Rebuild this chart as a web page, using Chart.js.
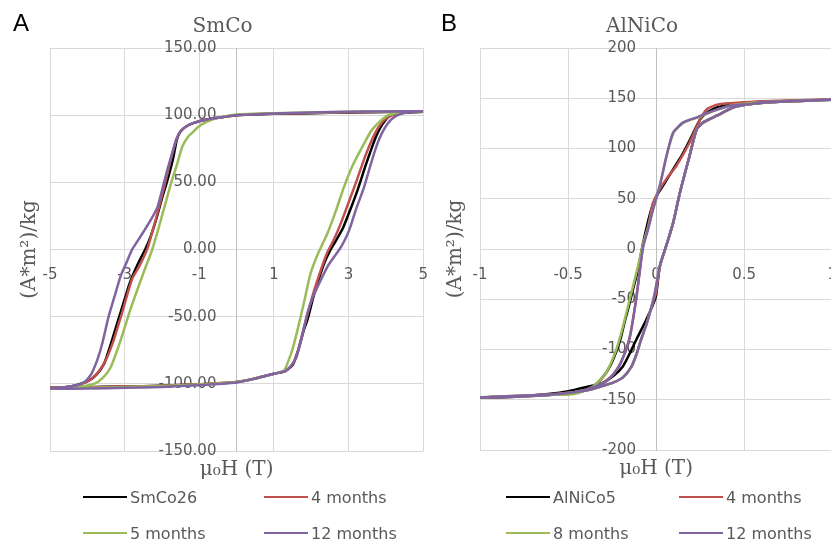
<!DOCTYPE html>
<html>
<head>
<meta charset="utf-8">
<script src="https://cdn.jsdelivr.net/npm/chart.js@4.4.0/dist/chart.umd.min.js"></script>
<style>
  html, body { margin: 0; padding: 0; background: #fff; overflow: hidden; width: 831px; height: 545px; }
  .panel { position: absolute; top: 0; height: 545px; }
  #panelA { left: 0; width: 445px; }
  #panelB { left: 430px; width: 424px; }
  .letter { position: absolute; top: 11px; font-family: "Liberation Sans", sans-serif; font-size: 24px; line-height: 24px; color: #000; }
  .legend { position: absolute; top: 487px; display: grid; row-gap: 16px; }
  #legendA { left: 83px; grid-template-columns: 181px auto; }
  #legendB { left: 506px; grid-template-columns: 173px auto; }
  .item { display: flex; align-items: center; height: 20px; font-family: "DejaVu Sans", sans-serif; font-size: 16px; color: #595959; white-space: nowrap; }
  .swatch { display: inline-block; width: 44px; height: 2.5px; margin-right: 3px; }
</style>
</head>
<body>
<canvas id="panelA" class="panel" width="445" height="545"></canvas>
<canvas id="panelB" class="panel" width="424" height="545"></canvas>
<div class="letter" style="left:13px">A</div>
<div class="letter" style="left:441px">B</div>
<div id="legendA" class="legend"></div>
<div id="legendB" class="legend"></div>
<script>
// ---- SmCo loops: mu0H (T) and magnetisation, descending then ascending ----
const smcoBlackH = [5, 4, 3, 2, 1, 0, -0.5, -1, -1.3, -1.5, -1.6, -1.7, -1.85, -2, -2.15, -2.3, -2.45, -2.65, -2.85, -3, -3.2, -3.4, -3.55, -3.75, -3.95, -4.3, -4.6, -5,
  -4, -3, -2, -1, -0.5, 0, 0.5, 1, 1.3, 1.5, 1.65, 1.8, 1.9, 2.05, 2.2, 2.35, 2.5, 2.65, 2.85, 3.05, 3.25, 3.45, 3.6, 3.75, 3.9, 4.1, 4.4, 4.7, 5];
const smcoBlackM = [102.5, 102.3, 102, 101.5, 101, 100, 98, 95.5, 92.5, 88, 82, 68, 52, 38, 23, 10, 0, -11, -24, -37, -55, -73, -85, -93, -97.5, -101, -102.5, -103,
  -102.5, -102, -101.5, -100.3, -99.8, -98.7, -96, -92.5, -90.5, -86, -75, -60, -52, -36, -22, -10, -1, 6, 16, 30, 45, 62, 74, 85, 93, 99.5, 101.5, 102.2, 102.5];

const smcoRedH = [5, 4, 3, 2, 1, 0, -0.5, -1, -1.3, -1.5, -1.6, -1.7, -1.85, -2, -2.15, -2.3, -2.4, -2.6, -2.8, -3.1, -3.3, -3.5, -3.7, -3.9, -4.2, -4.6, -5,
  -4, -3, -2, -1, 0, 0.5, 1, 1.3, 1.45, 1.6, 1.75, 1.9, 2.05, 2.2, 2.35, 2.45, 2.6, 2.8, 3, 3.2, 3.4, 3.6, 3.8, 4, 4.3, 4.7, 5];
const smcoRedM = [102.8, 102.6, 102.2, 101.7, 101.2, 100, 98, 95.5, 92.5, 88, 83, 74, 57, 40, 24, 9, 0, -12, -22, -50, -68, -82, -91, -96.5, -100.5, -102.5, -103,
  -102.5, -102, -101.5, -100.3, -98.7, -96, -92.5, -90.5, -87, -80, -64, -48, -33, -20, -8, -1, 7, 20, 35, 50, 66, 80, 91, 97.5, 101.5, 102.5, 103];

const smcoGreenH = [5, 4, 3, 2, 1, 0, -0.5, -0.8, -1, -1.15, -1.3, -1.45, -1.6, -1.75, -1.95, -2.1, -2.26, -2.45, -2.66, -2.85, -3.02, -3.2, -3.38, -3.6, -3.82, -4.2, -4.6, -5,
  -4, -3, -2, -1, 0, 0.5, 1, 1.27, 1.4, 1.5, 1.63, 1.8, 1.98, 2.15, 2.3, 2.43, 2.65, 2.87, 3.1, 3.41, 3.6, 3.77, 4.04, 4.4, 4.7, 5];
const smcoGreenM = [103, 102.8, 102.5, 102, 101.5, 100.5, 98, 95, 92, 88, 84, 77, 63, 50, 30, 15, 0, -14, -30, -45, -60, -75, -88, -96, -100, -102, -103, -103.5,
  -103, -102.3, -101.7, -100.5, -98.7, -96, -92.5, -90, -82, -74, -60, -40, -18, -5, 4, 11.7, 28, 46, 62, 78.6, 88, 93.5, 99.7, 102, 102.8, 103];

const smcoPurpleH = [5, 4, 3, 2, 1, 0, -0.5, -1, -1.3, -1.5, -1.6, -1.7, -1.86, -2.12, -2.3, -2.5, -2.66, -2.8, -2.97, -3.11, -3.25, -3.43, -3.6, -3.73, -3.9, -4.05, -4.2, -4.6, -5,
  -4, -3, -2, -1, 0, 0.5, 1, 1.3, 1.45, 1.6, 1.75, 1.9, 2.05, 2.25, 2.45, 2.65, 2.8, 2.95, 3.05, 3.2, 3.41, 3.6, 3.77, 3.9, 4.04, 4.2, 4.4, 4.7, 5];
const smcoPurpleM = [103, 102.8, 102.5, 102, 101.3, 100, 98, 95.5, 92.5, 88, 83, 74, 59, 31.5, 22, 13, 6, 0, -11, -20, -33, -50, -70, -82, -93, -98, -100.5, -102.5, -103.5,
  -103.5, -103, -102.3, -101, -99, -96, -92.5, -90.5, -87, -80, -65, -47, -35, -23, -12, -4, 2, 10, 17, 30, 46, 64, 78.6, 87, 93.5, 98, 101, 102.5, 103];

// ---- AlNiCo loops ----
const alBlackH = [1, 0.8, 0.6, 0.5, 0.42, 0.35, 0.3, 0.25, 0.19, 0.145, 0.12, 0.05, 0, -0.03, -0.074, -0.105, -0.131, -0.155, -0.178, -0.2, -0.226, -0.26, -0.3, -0.36, -0.43, -0.55, -0.7, -0.85, -1,
  -0.8, -0.6, -0.5, -0.416, -0.35, -0.3, -0.24, -0.188, -0.15, -0.112, -0.06, -0.017, 0, 0.021, 0.059, 0.097, 0.135, 0.19, 0.23, 0.268, 0.344, 0.44, 0.55, 0.7, 0.85, 1];
const alBlackM = [148.5, 147.5, 146.5, 145.5, 143.5, 141, 137, 129, 108, 93, 86, 66, 52, 38, 6, -22, -40, -57, -72, -88, -102, -116, -127, -137, -142, -144.5, -146, -147, -148,
  -147, -144, -141.5, -138, -135.5, -133, -126, -116.6, -104, -90, -72, -55, -46, -17, 4, 26.3, 56, 92.7, 119, 126, 132.6, 141, 144.5, 146.5, 147.5, 148.5];

const alRedH = [1, 0.8, 0.6, 0.5, 0.42, 0.36, 0.32, 0.287, 0.25, 0.19, 0.116, 0.06, 0.021, -0.02, -0.045, -0.074, -0.095, -0.115, -0.15, -0.2, -0.24, -0.283, -0.35, -0.43, -0.55, -0.7, -0.85, -1,
  -0.8, -0.6, -0.49, -0.378, -0.3, -0.245, -0.19, -0.14, -0.11, -0.087, -0.055, -0.03, 0, 0.01, 0.025, 0.059, 0.097, 0.135, 0.19, 0.23, 0.268, 0.344, 0.44, 0.55, 0.7, 0.85, 1];
const alRedM = [149, 148, 147, 146, 145, 144, 142, 139, 129, 106, 83, 70, 59.5, 44.6, 22, 3, -25, -52, -88, -113, -124, -131, -137, -141.5, -144, -145.5, -146.5, -147.5,
  -147, -145, -143, -140, -136, -133, -128, -117, -104, -91, -75, -60, -43, -30, -15, 4, 26.3, 56, 92.7, 119, 126, 132.6, 141, 144.5, 146.5, 147.5, 149];

const alGreenH = [1, 0.8, 0.6, 0.5, 0.42, 0.33, 0.23, 0.154, 0.1, 0.06, 0.021, -0.017, -0.045, -0.074, -0.1, -0.131, -0.155, -0.178, -0.2, -0.226, -0.255, -0.283, -0.32, -0.359, -0.435, -0.5, -0.6, -0.75, -1,
  -0.8, -0.6, -0.49, -0.378, -0.3, -0.245, -0.19, -0.14, -0.11, -0.087, -0.055, -0.03, -0.007, 0.021, 0.059, 0.097, 0.135, 0.19, 0.23, 0.268, 0.344, 0.44, 0.55, 0.7, 0.85, 1];
const alGreenM = [148.5, 147.5, 146, 144.5, 142.5, 137.5, 130.5, 125.5, 116, 93, 63, 40, 22, 5, -15, -37, -54, -70, -85, -100, -113, -123, -131, -137, -143, -145, -145, -146, -147.5,
  -147, -145, -143, -140, -136, -133, -128, -117, -104, -91, -75, -60, -43.5, -17, 4, 26.3, 56, 92.7, 119, 126, 132.6, 141, 144.5, 146.5, 147.5, 148.5];

const alPurpleH = [1, 0.8, 0.6, 0.534, 0.42, 0.325, 0.23, 0.154, 0.097, 0.059, 0.021, -0.017, -0.045, -0.074, -0.095, -0.115, -0.15, -0.2, -0.24, -0.283, -0.35, -0.43, -0.55, -0.7, -0.85, -1,
  -0.8, -0.6, -0.49, -0.378, -0.3, -0.245, -0.19, -0.14, -0.11, -0.087, -0.055, -0.03, -0.007, 0.021, 0.059, 0.097, 0.135, 0.19, 0.23, 0.268, 0.344, 0.44, 0.55, 0.7, 0.85, 1];
const alPurpleM = [148.5, 147.5, 146, 144.3, 142.6, 137.6, 131, 126, 116, 92.7, 62.8, 39.6, 20, 2, -25, -52, -88, -113, -124, -131.6, -137, -141.5, -144, -145.5, -146.5, -147.5,
  -147, -145, -143, -140, -136, -133, -128, -117, -104, -91, -75, -60, -43.5, -17, 4, 26.3, 56, 92.7, 119, 126, 132.6, 141, 144.5, 146.5, 147.5, 148.5];

const smcoLabels = ["SmCo26", "4 months", "5 months", "12 months"];
const alnicoLabels = ["AlNiCo5", "4 months", "8 months", "12 months"];
const seriesColors = ["#000000", "#C0504D", "#9BBB59", "#8064A2"];

const GRID = "#D9D9D9";
const TEXT = "#595959";
const TICK_FONT = { family: "DejaVu Sans", size: 15 };
const SERIF_FONT = { family: "DejaVu Serif", size: 20, weight: "normal" };

const toPoints = (h, m) => h.map((x, i) => ({ x: x, y: m[i] }));

const makeDatasets = (labels, loops) => loops.map((loop, i) => ({
  label: labels[i],
  data: toPoints(loop[0], loop[1]),
  borderColor: seriesColors[i],
  backgroundColor: seriesColors[i],
  borderWidth: 2.5,
  pointRadius: 0,
  showLine: true,
  tension: 0.2,
  order: loops.length - 1 - i   // last series on top, like the original
}));

// empty side axes that only carry an axis title
const spacer = (side, size, title) => ({
  type: "linear", axis: side === "bottom" ? "x" : "y", position: side,
  ticks: { display: false }, grid: { display: false }, border: { display: false },
  title: title,
  afterFit: (s) => { if (side === "bottom") { s.height = size; } else { s.width = size; } }
});

const drawPanel = (canvasId, cfg) => new Chart(document.getElementById(canvasId), {
  type: "scatter",
  data: { datasets: cfg.datasets },
  options: {
    responsive: false,
    animation: false,
    devicePixelRatio: 1,
    layout: { padding: { left: 0, right: 0, top: 0, bottom: cfg.padBottom } },
    plugins: {
      legend: { display: false },
      tooltip: { enabled: false },
      title: {
        display: true,
        text: cfg.title,
        color: TEXT,
        font: SERIF_FONT,
        padding: { top: 15, bottom: 9 }
      }
    },
    scales: {
      x: {
        type: "linear",
        position: { y: 0 },
        min: cfg.xMin, max: cfg.xMax,
        ticks: { stepSize: cfg.xStep, color: TEXT, font: TICK_FONT, padding: 17, maxRotation: 0, autoSkip: false, callback: (v) => String(v) },
        grid: { color: GRID, drawTicks: false },
        border: { color: GRID }
      },
      y: {
        type: "linear",
        position: { x: 0 },
        min: cfg.yMin, max: cfg.yMax,
        ticks: { stepSize: cfg.yStep, display: false },
        grid: { color: GRID, drawTicks: false },
        border: { color: "#BFBFBF" }
      },
      // value labels sit a little left of the vertical axis
      yLabels: {
        type: "linear", axis: "y",
        position: { x: cfg.yLabelAt },
        min: cfg.yMin, max: cfg.yMax,
        ticks: { stepSize: cfg.yStep, color: TEXT, font: TICK_FONT, callback: cfg.yFormat },
        grid: { display: false },
        border: { display: false }
      },
      yTitle: spacer("left", 50, {
        display: true, text: "(A*m²)/kg", color: TEXT, font: SERIF_FONT, padding: { top: cfg.yTitlePad, bottom: 0 }
      }),
      xTitle: spacer("bottom", 31, {
        display: true, text: "μ₀H (T)", color: TEXT, font: SERIF_FONT, padding: { top: 0, bottom: 0 }
      })
    }
  }
});

const buildLegend = (chart, boxId) => {
  const box = document.getElementById(boxId);
  chart.data.datasets.forEach((ds) => {
    const item = document.createElement("div");
    item.className = "item";
    const sw = document.createElement("span");
    sw.className = "swatch";
    sw.style.background = ds.borderColor;
    const tx = document.createElement("span");
    tx.textContent = ds.label;
    item.appendChild(sw);
    item.appendChild(tx);
    box.appendChild(item);
  });
};

const chartA = drawPanel("panelA", {
  title: "SmCo",
  datasets: makeDatasets(smcoLabels, [
    [smcoBlackH, smcoBlackM], [smcoRedH, smcoRedM], [smcoGreenH, smcoGreenM], [smcoPurpleH, smcoPurpleM]
  ]),
  xMin: -5, xMax: 5, xStep: 2,
  yMin: -150, yMax: 150, yStep: 50,
  yFormat: (v) => v.toFixed(2),
  yLabelAt: -0.54,
  yTitlePad: 18,
  padBottom: 63
});

const chartB = drawPanel("panelB", {
  title: "AlNiCo",
  datasets: makeDatasets(alnicoLabels, [
    [alBlackH, alBlackM], [alRedH, alRedM], [alGreenH, alGreenM], [alPurpleH, alPurpleM]
  ]),
  xMin: -1, xMax: 1, xStep: 0.5,
  yMin: -200, yMax: 200, yStep: 50,
  yFormat: (v) => String(v),
  yLabelAt: -0.114,
  yTitlePad: 14,
  padBottom: 64
});

buildLegend(chartA, "legendA");
buildLegend(chartB, "legendB");
</script>
</body>
</html>
